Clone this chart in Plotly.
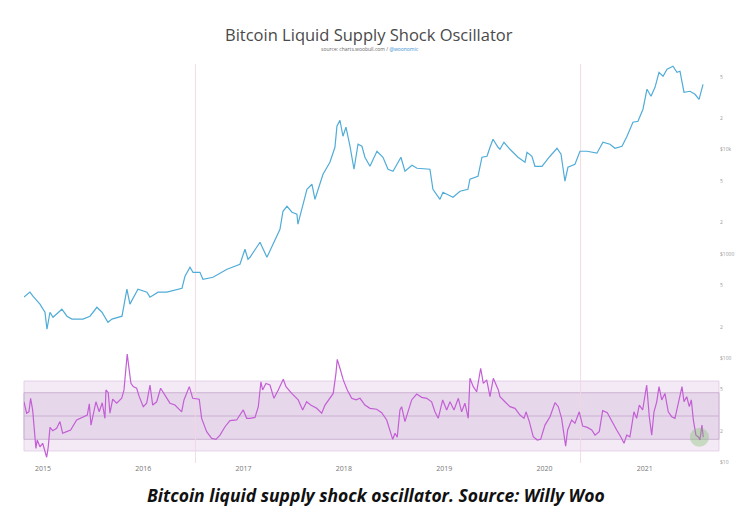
import plotly.graph_objects as go

# ---- data (decimal years) ----
price_year = [2014.811, 2014.870, 2014.900, 2014.970, 2015.020, 2015.040, 2015.070, 2015.100, 2015.189, 2015.239,
              2015.289, 2015.399, 2015.469, 2015.538, 2015.588, 2015.648, 2015.688, 2015.788, 2015.837, 2015.867,
              2015.947, 2016.037, 2016.067, 2016.147, 2016.236, 2016.386, 2016.416, 2016.466, 2016.496, 2016.565,
              2016.595, 2016.695, 2016.835, 2016.964, 2017.014, 2017.044, 2017.064, 2017.164, 2017.233, 2017.293,
              2017.363, 2017.393, 2017.433, 2017.483, 2017.532, 2017.542, 2017.592, 2017.632, 2017.682, 2017.712,
              2017.792, 2017.861, 2017.911, 2017.931, 2017.961, 2017.991, 2018.021, 2018.061, 2018.101, 2018.141,
              2018.180, 2018.210, 2018.260, 2018.330, 2018.390, 2018.440, 2018.490, 2018.569, 2018.609, 2018.679,
              2018.729, 2018.858, 2018.888, 2018.928, 2018.958, 2018.988, 2019.088, 2019.158, 2019.237, 2019.257,
              2019.337, 2019.377, 2019.427, 2019.457, 2019.487, 2019.537, 2019.556, 2019.596, 2019.656, 2019.736,
              2019.806, 2019.826, 2019.875, 2019.905, 2019.975, 2020.055, 2020.125, 2020.165, 2020.204, 2020.234,
              2020.304, 2020.354, 2020.424, 2020.523, 2020.583, 2020.653, 2020.703, 2020.773, 2020.823, 2020.882,
              2020.932, 2020.982, 2021.022, 2021.062, 2021.102, 2021.142, 2021.182, 2021.222, 2021.281, 2021.321,
              2021.351, 2021.391, 2021.451, 2021.501, 2021.541, 2021.581]
price_usd = [385, 430, 393, 330, 276, 190, 276, 247, 295, 253,
             237, 237, 253, 308, 276, 221, 237, 253, 459, 330,
             459, 430, 385, 430, 430, 469, 611, 745, 667, 667,
             572, 598, 713, 796, 1109, 889, 929, 1294, 929, 1239,
             1725, 2566, 2866, 2512, 2404, 1928, 2866, 4170, 4656, 3342,
             5807, 7568, 10540, 16790, 19150, 13450, 16410, 10790, 6490, 11270,
             10790, 8460, 6930, 9660, 8460, 6490, 6210, 8460, 6210, 7080,
             6630, 6490, 4170, 3730, 3342, 3905, 3500, 3993, 4170, 5210,
             5560, 8460, 8650, 10540, 12590, 10540, 10090, 11780, 10090, 8460,
             7570, 9440, 8650, 6930, 6930, 8650, 10320, 9040, 4980, 6780,
             7250, 9660, 9660, 9250, 11780, 11270, 10320, 10790, 13450, 18320,
             18720, 24430, 38020, 32530, 39630, 55200, 50580, 59020, 63100, 55200,
             56490, 35560, 36310, 33960, 30410, 42360]

osc_year = [2014.811, 2014.837, 2014.860, 2014.877, 2014.897, 2014.913, 2014.930, 2014.943, 2014.970, 2014.997,
            2015.020, 2015.037, 2015.053, 2015.070, 2015.097, 2015.137, 2015.169, 2015.196, 2015.236, 2015.276,
            2015.336, 2015.386, 2015.442, 2015.462, 2015.479, 2015.528, 2015.561, 2015.591, 2015.618, 2015.628,
            2015.651, 2015.668, 2015.695, 2015.735, 2015.785, 2015.808, 2015.825, 2015.840, 2015.860, 2015.877,
            2015.900, 2015.934, 2015.960, 2016.000, 2016.034, 2016.067, 2016.094, 2016.134, 2016.173, 2016.216,
            2016.266, 2016.316, 2016.383, 2016.406, 2016.459, 2016.493, 2016.558, 2016.582, 2016.632, 2016.682,
            2016.725, 2016.765, 2016.815, 2016.864, 2016.931, 2016.997, 2017.031, 2017.064, 2017.114, 2017.147,
            2017.173, 2017.190, 2017.223, 2017.263, 2017.303, 2017.346, 2017.370, 2017.396, 2017.423, 2017.480,
            2017.545, 2017.589, 2017.629, 2017.669, 2017.729, 2017.779, 2017.812, 2017.861, 2017.894, 2017.921,
            2017.934, 2017.961, 2017.994, 2018.034, 2018.078, 2018.121, 2018.161, 2018.210, 2018.260, 2018.327,
            2018.377, 2018.427, 2018.460, 2018.487, 2018.510, 2018.532, 2018.559, 2018.576, 2018.609, 2018.642,
            2018.676, 2018.726, 2018.776, 2018.826, 2018.875, 2018.908, 2018.941, 2018.985, 2019.025, 2019.058,
            2019.098, 2019.141, 2019.174, 2019.207, 2019.240, 2019.257, 2019.290, 2019.324, 2019.364, 2019.390,
            2019.424, 2019.457, 2019.490, 2019.540, 2019.556, 2019.606, 2019.656, 2019.706, 2019.756, 2019.796,
            2019.816, 2019.849, 2019.888, 2019.928, 2019.962, 2020.005, 2020.055, 2020.105, 2020.138, 2020.171,
            2020.194, 2020.211, 2020.231, 2020.271, 2020.304, 2020.347, 2020.381, 2020.427, 2020.471, 2020.504,
            2020.546, 2020.580, 2020.626, 2020.670, 2020.720, 2020.760, 2020.793, 2020.820, 2020.852, 2020.892,
            2020.919, 2020.945, 2020.979, 2021.019, 2021.045, 2021.069, 2021.092, 2021.119, 2021.142, 2021.169,
            2021.201, 2021.234, 2021.268, 2021.301, 2021.324, 2021.351, 2021.371, 2021.391, 2021.418, 2021.444,
            2021.464, 2021.484, 2021.510, 2021.537, 2021.550, 2021.570, 2021.583]
osc_value = [0.61, 0.12, 0.18, 0.76, 0.26, -0.53, -1.39, -1.03, -1.32, -1.17,
             -1.46, -1.77, -1.32, -0.49, -0.63, -0.53, -0.24, -0.74, -0.67, -0.60,
             -0.17, -0.06, 0.04, 0.52, -0.39, 0.61, 0.18, 0.57, -0.10, 1.12,
             1.00, 0.12, 0.72, 0.55, 0.76, 1.12, 1.97, 2.66, 1.97, 1.40,
             1.26, 1.19, 0.83, 0.40, 0.55, 1.33, 0.47, 0.61, 1.19, 0.90,
             0.55, 0.47, 0.18, 0.69, 1.26, 0.76, 0.72, -0.10, -0.67, -0.96,
             -1.00, -0.82, -0.46, -0.20, -0.17, 0.26, -0.10, -0.10, -0.06, 0.40,
             1.47, 1.12, 1.40, 1.33, 0.76, 1.12, 1.33, 1.58, 1.26, 0.97,
             0.69, 0.26, 0.61, 0.47, 0.33, 0.12, 0.47, 0.76, 0.97, 1.83,
             2.43, 2.05, 1.55, 1.12, 0.76, 0.69, 0.76, 0.47, 0.33, 0.29,
             0.14, -0.17, -0.60, -1.00, -0.74, -0.91, 0.26, 0.40, -0.24, 0.18,
             0.69, 0.94, 0.80, 0.76, 0.61, 0.18, -0.10, 0.69, 0.26, 0.61,
             0.26, 0.76, 0.18, 0.55, -0.10, 1.62, 1.26, 1.04, 2.05, 1.40,
             1.55, 0.83, 1.62, 1.12, 0.83, 0.61, 0.40, 0.33, 0.04, -0.10,
             0.18, -0.24, -0.89, -1.03, -1.00, -0.39, -0.03, 0.57, 0.40, -0.10,
             -0.82, -1.29, -0.60, -0.17, -0.31, 0.18, -0.43, -0.49, -0.60, -0.82,
             -0.67, 0.23, 0.14, -0.24, -0.60, -0.89, -1.17, -0.82, -0.89, 0.18,
             -0.10, 0.47, 0.26, 1.33, -0.03, -0.82, 0.18, 0.61, 1.26, 0.69,
             0.97, 0.18, -0.03, -0.10, 0.40, 0.83, 1.26, 0.61, 0.83, 0.40,
             0.69, -0.17, -0.82, -0.91, -1.03, -0.39, -0.91]

halving_year = [2016.52, 2020.36]
band_inner = [-1.0, 1.0]
band_outer = [-1.5, 1.5]
marker_point = [2021.545, -0.91]

year_ticks = [2015, 2016, 2017, 2018, 2019, 2020, 2021]
price_ticks = [10, 20, 50, 100, 200, 500, 1000, 2000, 5000, 10000, 20000, 50000]
price_tick_text = ["$10", "2", "5", "$100", "2", "5", "$1000", "2", "5", "$10k", "2", "5"]

x_range = [2014.811, 2021.740]

W, H = 750, 526
ML, MR, MT, MB = 24, 31, 60, 63

fig = go.Figure()

# oscillator bands
fig.add_shape(type="rect", xref="paper", yref="y2", x0=0, x1=1, y0=band_outer[0], y1=band_outer[1],
              fillcolor="rgba(242,230,244,0.85)", line=dict(color="rgba(225,205,230,0.9)", width=1), layer="below")
fig.add_shape(type="rect", xref="paper", yref="y2", x0=0, x1=1, y0=band_inner[0], y1=band_inner[1],
              fillcolor="rgba(222,202,228,0.6)", line=dict(color="rgba(195,168,202,0.8)", width=1), layer="below")
fig.add_shape(type="line", xref="paper", yref="y2", x0=0, x1=1, y0=0, y1=0,
              line=dict(color="rgba(195,168,202,0.8)", width=1), layer="below")

for hy in halving_year:
    fig.add_shape(type="line", xref="x", yref="paper", x0=hy, x1=hy, y0=0, y1=0.99,
                  line=dict(color="rgba(242,215,225,0.9)", width=1), layer="below")

fig.add_trace(go.Scatter(x=price_year, y=price_usd, mode="lines", yaxis="y",
                         line=dict(color="#50acd8", width=1.2), hoverinfo="skip", showlegend=False))
fig.add_trace(go.Scatter(x=osc_year, y=osc_value, mode="lines", yaxis="y2",
                         line=dict(color="#c35fd5", width=1.2), hoverinfo="skip", showlegend=False))
fig.add_trace(go.Scatter(x=[marker_point[0]], y=[marker_point[1]], mode="markers", yaxis="y2",
                         marker=dict(size=19, color="rgba(120,190,100,0.35)", line=dict(width=0)),
                         hoverinfo="skip", showlegend=False))

fig.update_layout(
    width=W, height=H,
    margin=dict(l=ML, r=MR, t=MT, b=MB),
    paper_bgcolor="white", plot_bgcolor="white",
    font=dict(family="Open Sans", color="#888"),
    xaxis=dict(range=x_range, tickvals=year_ticks, ticktext=[str(y) for y in year_ticks],
               showgrid=False, zeroline=False, showline=False, ticks="",
               tickfont=dict(size=7, color="#777")),
    yaxis=dict(type="log", range=[0.995, 4.86], side="right", tickvals=price_ticks, ticktext=price_tick_text,
               showgrid=False, zeroline=False, showline=False, ticks="",
               tickfont=dict(size=5, color="#999")),
    yaxis2=dict(range=[-2.017, 15.28], overlaying="y", visible=False),
    showlegend=False,
)

pw, ph = W - ML - MR, H - MT - MB
def px(xp):
    return (xp - ML) / pw
def py(yp):
    return (H - MB - yp) / ph

fig.add_annotation(text="Bitcoin Liquid Supply Shock Oscillator", x=px(369), y=py(35), xref="paper", yref="paper",
                   xanchor="center", yanchor="middle",
                   showarrow=False, font=dict(family="Open Sans", size=16.5, color="#4a4a4a"))
fig.add_annotation(text="source: charts.woobull.com / <span style='color:#3b8fd0'>@woonomic</span>",
                   x=px(370), y=py(49), xref="paper", yref="paper", xanchor="center", yanchor="middle",
                   showarrow=False, font=dict(family="Open Sans", size=5, color="#666"))
fig.add_annotation(text="<i><b>Bitcoin liquid supply shock oscillator. Source: Willy Woo</b></i>",
                   x=px(376), y=py(495), xref="paper", yref="paper", xanchor="center", yanchor="middle",
                   showarrow=False, font=dict(family="Open Sans", size=17.5, color="#111"))

fig.write_html("out.html", config={"displayModeBar": False},
               post_script="document.body.style.margin='0';document.body.style.overflow='hidden';")
